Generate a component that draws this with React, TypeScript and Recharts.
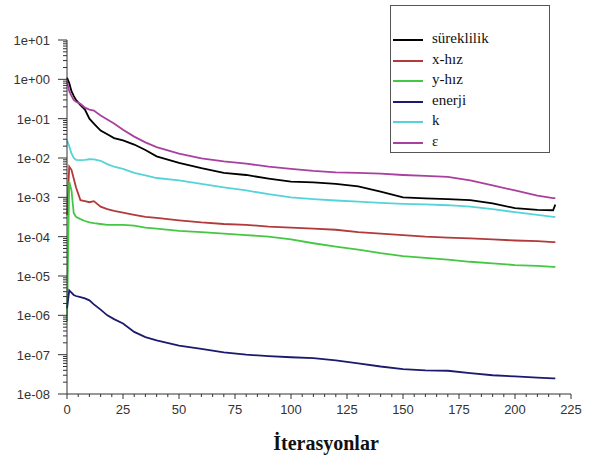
import { LineChart, Line, XAxis, YAxis } from 'recharts'

const iterations = [0, 1, 2, 3, 4, 6, 8, 10, 12, 15, 18, 21, 25, 30, 35, 40, 50, 60, 70, 80, 90, 100, 110, 120, 130, 140, 150, 160, 170, 180, 190, 200, 210, 217, 218]

const sureklilik = [1.1, 0.8, 0.5, 0.38, 0.3, 0.22, 0.17, 0.1, 0.075, 0.05, 0.04, 0.032, 0.028, 0.022, 0.016, 0.011, 0.0075, 0.0055, 0.0042, 0.0037, 0.003, 0.0025, 0.0024, 0.0022, 0.0019, 0.0014, 0.001, 0.00094, 0.0009, 0.00085, 0.0007, 0.00053, 0.00048, 0.00047, 0.00065]
const xHiz = [0.00035, 0.006, 0.005, 0.003, 0.0018, 0.00085, 0.0008, 0.00075, 0.0008, 0.00058, 0.0005, 0.00045, 0.00041, 0.00036, 0.00032, 0.0003, 0.00026, 0.00023, 0.00021, 0.0002, 0.00018, 0.00017, 0.00016, 0.00015, 0.00013, 0.00012, 0.00011, 0.0001, 0.000095, 0.00009, 0.000085, 0.00008, 0.000077, 0.000073, 0.000073]
const yHiz = [7e-7, 0.0025, 0.0015, 0.0004, 0.00032, 0.00028, 0.00025, 0.00023, 0.00022, 0.00021, 0.0002, 0.0002, 0.0002, 0.00019, 0.00017, 0.00016, 0.00014, 0.00013, 0.00012, 0.00011, 0.0001, 0.000085, 0.000068, 0.000056, 0.000047, 0.000038, 0.000032, 0.000029, 0.000026, 0.000023, 0.000021, 0.000019, 0.000018, 0.000017, 0.000017]
const enerji = [1.5e-6, 4.3e-6, 3.8e-6, 3.3e-6, 3.1e-6, 2.9e-6, 2.7e-6, 2.4e-6, 1.9e-6, 1.4e-6, 1.0e-6, 8e-7, 6.2e-7, 3.8e-7, 2.8e-7, 2.3e-7, 1.7e-7, 1.4e-7, 1.15e-7, 1.0e-7, 9.2e-8, 8.6e-8, 8.2e-8, 7.2e-8, 6e-8, 5e-8, 4.3e-8, 4e-8, 3.9e-8, 3.4e-8, 3e-8, 2.8e-8, 2.6e-8, 2.5e-8, 2.5e-8]
const kRes = [0.028, 0.02, 0.013, 0.01, 0.009, 0.0088, 0.009, 0.0093, 0.0092, 0.0085, 0.007, 0.006, 0.0053, 0.0042, 0.0036, 0.0031, 0.0027, 0.0022, 0.0018, 0.0015, 0.0012, 0.001, 0.0009, 0.00083, 0.00078, 0.00072, 0.00068, 0.00066, 0.00063, 0.00058, 0.0005, 0.00042, 0.00036, 0.00032, 0.00032]
const epsilon = [0.9, 0.5, 0.38, 0.3, 0.27, 0.24, 0.19, 0.17, 0.16, 0.12, 0.095, 0.075, 0.052, 0.035, 0.025, 0.019, 0.013, 0.0098, 0.0082, 0.0072, 0.006, 0.0053, 0.0047, 0.0043, 0.0042, 0.004, 0.0037, 0.0035, 0.0033, 0.0027, 0.002, 0.0015, 0.0011, 0.00095, 0.00095]

const seriesNames = ['süreklilik', 'x-hız', 'y-hız', 'enerji', 'k', 'ε']
const seriesColors = ['#000000', '#b23a3a', '#44c844', '#1a1a6e', '#55d4d8', '#a8409e']
const seriesValues = [sureklilik, xHiz, yHiz, enerji, kRes, epsilon]

const xTicks = [0, 25, 50, 75, 100, 125, 150, 175, 200, 225]
const yDecades = [1e-8, 1e-7, 1e-6, 1e-5, 1e-4, 1e-3, 1e-2, 1e-1, 1, 10]
const yTickLabels = ['1e-08', '1e-07', '1e-06', '1e-05', '1e-04', '1e-03', '1e-02', '1e-01', '1e+00', '1e+01']

const chartData = iterations.map((it, i) => {
  const row: Record<string, number> = { it }
  seriesValues.forEach((vals, s) => { row['s' + s] = vals[i] })
  return row
})

// minor ticks every 5 iterations, labels only every 25
const xAllTicks: number[] = []
for (let v = 0; v <= 225; v += 5) xAllTicks.push(v)

// log minor ticks 2..9 within each decade
const yAllTicks: number[] = []
yDecades.forEach((d, i) => {
  yAllTicks.push(d)
  if (i < yDecades.length - 1) for (let m = 2; m <= 9; m++) yAllTicks.push(d * m)
})

const tickFont = '"Liberation Sans", Arial, sans-serif'
const serifFont = '"Liberation Serif", "Times New Roman", serif'

const XTick = (props: any) => {
  const { x, y, payload } = props
  const v = payload.value
  const major = xTicks.includes(v)
  return (
    <g>
      <line x1={x} x2={x} y1={y} y2={y + (major ? 5 : 3)} stroke="#333" />
      {major && (
        <text x={x} y={y + 20} textAnchor="middle" fill="#333" fontSize={13} fontFamily={tickFont}>
          {v}
        </text>
      )}
    </g>
  )
}

const YTick = (props: any) => {
  const { x, y, payload } = props
  const v = payload.value
  const idx = yDecades.findIndex(d => Math.abs(v / d - 1) < 1e-6)
  const major = idx >= 0
  return (
    <g>
      <line x1={x} x2={x - (major ? 9 : 4)} y1={y} y2={y} stroke="#333" />
      {major && (
        <text x={x - 17} y={y + 5} textAnchor="end" fill="#333" fontSize={13} fontFamily={tickFont}>
          {yTickLabels[idx]}
        </text>
      )}
    </g>
  )
}

export default function App() {
  return (
    <div style={{ position: 'absolute', left: 0, top: 0, width: 592, height: 463, background: '#fff' }}>
      <LineChart width={592} height={463} data={chartData} margin={{ top: 40, right: 21, left: 0, bottom: 39 }}>
        <XAxis
          dataKey="it"
          type="number"
          domain={[0, 225]}
          ticks={xAllTicks}
          interval={0}
          tick={<XTick />}
          tickLine={false}
          tickSize={0}
          tickMargin={0}
          height={30}
          axisLine={{ stroke: '#333' }}
          label={{
            value: 'İterasyonlar',
            position: 'bottom',
            offset: 12,
            dx: 7,
            style: { fontFamily: serifFont, fontWeight: 'bold', fontSize: 20, fill: '#111' },
          }}
        />
        <YAxis
          type="number"
          scale="log"
          domain={[1e-8, 10]}
          allowDataOverflow
          ticks={yAllTicks}
          interval={0}
          tick={<YTick />}
          tickLine={false}
          tickSize={0}
          tickMargin={0}
          width={67}
          axisLine={{ stroke: '#333' }}
        />
        {seriesNames.map((name, s) => (
          <Line
            key={name}
            type="linear"
            dataKey={'s' + s}
            name={name}
            stroke={seriesColors[s]}
            strokeWidth={1.8}
            dot={false}
            isAnimationActive={false}
          />
        ))}
      </LineChart>
      {/* legend box, top right */}
      <div
        style={{
          position: 'absolute',
          left: 390,
          top: 5,
          width: 158,
          height: 146,
          border: '1px solid #555',
          background: '#fff',
        }}
      >
        {seriesNames.map((name, s) => (
          <div key={name} style={{ position: 'absolute', left: 0, top: 34 + s * 20.6 - 10, height: 20, width: 150 }}>
            <div style={{ position: 'absolute', left: 2, top: 9, width: 30, height: 2, background: seriesColors[s] }} />
            <span
              style={{
                position: 'absolute',
                left: 41,
                top: 0,
                lineHeight: '17px',
                fontFamily: serifFont,
                fontSize: 15,
                color: '#111',
              }}
            >
              {name}
            </span>
          </div>
        ))}
      </div>
    </div>
  )
}
